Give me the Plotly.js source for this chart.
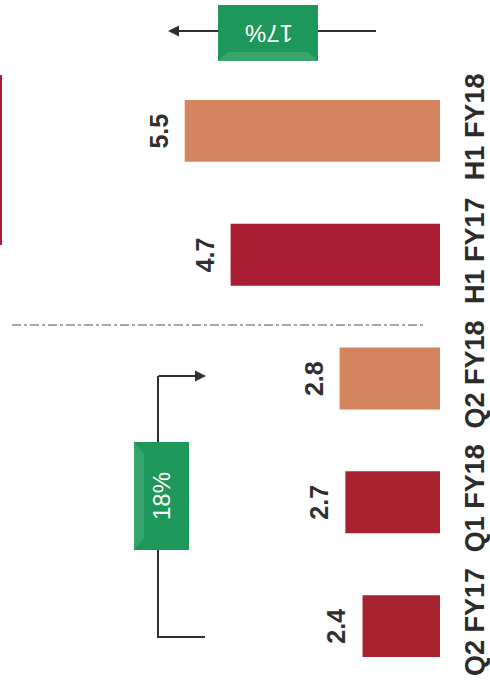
<!DOCTYPE html>
<html>
<head>
<meta charset="utf-8">
<script src="https://cdn.plot.ly/plotly-3.0.1.min.js"></script>
<style>html,body{margin:0;padding:0;background:#fff;}#chart{width:490px;height:688px;}</style>
</head>
<body>
<div id="chart"></div>
<script>
// ---- data ----
var categories = ['Q2 FY17', 'Q1 FY18', 'Q2 FY18', 'H1 FY17', 'H1 FY18'];
var values = [2.4, 2.7, 2.8, 4.7, 5.5];
var growthQuarter = '18%';
var growthHalf = '17%';

// ---- styles ----
var barColors = ['#a6232f', '#a6232f', '#d4845f', '#aa1c32', '#d4845f'];
var green = '#1e975a';
var greenLight = '#38a56c';
var ink = '#2f2f2f';
var fontFam = 'Liberation Sans, Arial, sans-serif';

// pixel -> paper helpers (plot area: x 0..440, y 69..688)
var L = 0, R = 440, T = 69, B = 688;
function px(x) { return (x - L) / (R - L); }
function py(y) { return (B - y) / (B - T); }

var trace = {
  type: 'bar',
  orientation: 'h',
  y: categories,
  x: values,
  marker: { color: barColors, line: { width: 0 } },
  cliponaxis: true,
  hoverinfo: 'skip'
};

function line(x0, y0, x1, y1, color, width, dash) {
  return { type: 'line', xref: 'paper', yref: 'paper', x0: px(x0), y0: py(y0), x1: px(x1), y1: py(y1),
           line: { color: color, width: width, dash: dash || 'solid' }, layer: 'above' };
}
function rect(x0, y0, x1, y1, color) {
  return { type: 'rect', xref: 'paper', yref: 'paper', x0: px(x0), y0: py(y0), x1: px(x1), y1: py(y1),
           fillcolor: color, line: { width: 0 }, layer: 'above' };
}
function poly(pts, color) {
  var d = pts.map(function (p, i) { return (i ? 'L' : 'M') + px(p[0]) + ',' + py(p[1]); }).join(' ') + ' Z';
  return { type: 'path', xref: 'paper', yref: 'paper', path: d, fillcolor: color, line: { width: 0 }, layer: 'above' };
}

var shapes = [
  // dotted separator
  line(12, 325, 425, 325, '#8a8a8a', 1.5, 'dashdot'),
  // red edge line at left
  line(1, 75, 1, 245, '#b01c30', 2),
  // 18% connector
  line(158, 376, 158, 442, ink, 2),
  line(158, 550, 158, 637, ink, 2),
  line(157, 637, 205, 637, ink, 2),
  // 17% connector
  line(318, 31, 376, 31, ink, 2),
  // 18% box
  rect(134, 442, 189, 550, green),
  poly([[134, 442], [144, 454], [144, 538], [134, 550]], greenLight),
  // 17% box
  rect(218, 5, 318, 61, green),
  poly([[218, 61], [228, 52], [308, 52], [318, 61]], greenLight)
];

var annotations = [
  // arrow for 18%
  { xref: 'paper', yref: 'paper', x: px(206), y: py(376), ax: -49, ay: 0, text: '', showarrow: true,
    arrowhead: 2, arrowsize: 1.1, arrowwidth: 2, arrowcolor: ink },
  // arrow for 17%
  { xref: 'paper', yref: 'paper', x: px(168), y: py(31), ax: 52, ay: 0, text: '', showarrow: true,
    arrowhead: 2, arrowsize: 1.1, arrowwidth: 2, arrowcolor: ink },
  { xref: 'paper', yref: 'paper', x: px(162), y: py(496), xanchor: 'center', yanchor: 'middle',
    text: growthQuarter, showarrow: false,
    textangle: -90, font: { family: fontFam, size: 24, color: '#ffffff' } },
  { xref: 'paper', yref: 'paper', x: px(269), y: py(33), xanchor: 'center', yanchor: 'middle',
    text: growthHalf, showarrow: false,
    textangle: 180, font: { family: fontFam, size: 24, color: '#ffffff' } }
];

// value labels placed through the axes' scales
values.forEach(function (v, i) {
  annotations.push({
    xref: 'x', yref: 'y', x: v, y: categories[i], text: v.toFixed(1), showarrow: false,
    textangle: -90, xanchor: 'center', yanchor: 'middle', xshift: -26,
    font: { family: fontFam, size: 25, color: ink, weight: 'bold' }
  });
});

var layout = {
  width: 490, height: 688,
  margin: { l: L, r: 490 - R, t: T, b: 688 - B, pad: 0 },
  paper_bgcolor: '#ffffff', plot_bgcolor: '#ffffff',
  showlegend: false,
  bargap: 0.5,
  xaxis: { range: [8.72, 1.05], showgrid: false, zeroline: false, showline: false, showticklabels: false, ticks: '' },
  yaxis: { type: 'category', side: 'right', showgrid: false, zeroline: false, showline: false,
           ticks: 'outside', ticklen: 11, tickcolor: 'rgba(0,0,0,0)', tickangle: -90,
           tickfont: { family: fontFam, size: 27, color: '#2b2b2b', weight: 'bold' } },
  shapes: shapes,
  annotations: annotations
};

Plotly.newPlot('chart', [trace], layout, { displayModeBar: false, staticPlot: true });
</script>
</body>
</html>
